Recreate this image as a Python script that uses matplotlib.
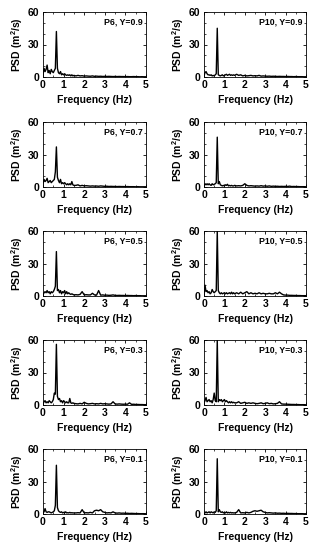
import numpy as np
import matplotlib
matplotlib.use('Agg')
import matplotlib.pyplot as plt
from matplotlib.ticker import MultipleLocator

plt.rcParams['font.family'] = ['Liberation Sans', 'DejaVu Sans']
plt.rcParams['font.weight'] = 'bold'
plt.rcParams['mathtext.fontset'] = 'custom'
plt.rcParams['mathtext.rm'] = 'Liberation Sans:bold'
plt.rcParams['mathtext.bf'] = 'Liberation Sans:bold'
plt.rcParams['mathtext.default'] = 'bf'

# frequency grid (Hz): fine near the peak, coarser above 1.5 Hz
freq = np.concatenate([np.arange(0, 1.501, 0.05), np.arange(1.6, 5.001, 0.1)])

# PSD values (m^2/s)
p6_09 = [2, 8, 5, 7, 11, 4, 6, 3, 7, 5, 4, 6, 8, 42, 8, 4, 3, 5, 2, 3, 2, 3, 2, 1.5, 2, 1.5, 2, 1, 2, 1, 1.5,
         1, 1.5, 1, 1.2, 0.8, 1, 0.8, 0.7, 1, 0.6, 0.8, 0.6, 0.7, 0.5, 0.6, 0.5, 0.6, 0.5, 0.4, 0.5, 0.4, 0.5,
         0.4, 0.4, 0.3, 0.4, 0.3, 0.3, 0.4, 0.3, 0.3, 0.2, 0.3, 0.2, 0.2]
p10_09 = [1, 4, 5, 3, 2, 2, 1.5, 2, 1, 1.5, 1, 2, 3, 45, 2, 1.5, 1, 1.5, 2, 1, 1.5, 2, 2.5, 1.5, 2, 2.5, 1.5, 2, 1.5, 2, 1.5,
          2.5, 1.5, 2, 1, 1.5, 1, 1.2, 1.5, 1, 1.2, 1, 1.5, 0.8, 1, 0.8, 0.7, 0.8, 0.6, 0.7, 0.6, 0.5, 0.6,
          0.5, 0.5, 0.4, 0.5, 0.4, 0.4, 0.3, 0.4, 0.3, 0.3, 0.3, 0.2, 0.2]
p6_07 = [3, 7, 5, 6, 8, 4, 5, 6, 4, 5, 6, 7, 14, 37, 9, 6, 4, 7, 3, 4, 3, 4, 3, 2, 3, 2, 3, 2, 5, 2, 1.5,
         1.5, 2, 1, 1.5, 1, 1.2, 1, 0.8, 1, 0.8, 0.9, 0.7, 1, 0.8, 0.6, 0.7, 0.5, 0.6, 0.5, 0.5, 0.4, 0.5,
         0.4, 0.4, 0.3, 0.4, 0.3, 0.3, 0.3, 0.2, 0.3, 0.2, 0.2, 0.2, 0.2]
p10_07 = [1, 3, 2, 3, 2, 3, 2, 1.5, 3, 2, 2.5, 3, 4, 46, 3, 5, 2, 1.5, 1, 1.5, 1, 2, 1.5, 2.5, 1, 1.5, 1, 1.5, 1, 1, 1.5,
          1, 1.2, 1, 1.5, 3, 1.5, 1, 1.2, 1, 0.8, 1, 0.8, 1.2, 0.8, 1, 0.7, 1, 0.6, 0.8, 0.6, 0.7, 0.5,
          0.6, 0.5, 0.6, 0.5, 0.8, 0.4, 0.5, 0.4, 0.4, 0.3, 0.3, 0.3, 0.2]
p6_05 = [1, 3, 4, 3, 5, 3, 4, 2, 4, 3, 4, 6, 9, 41, 5, 6, 3, 5, 2, 4, 3, 5, 2, 4, 2, 3, 2, 1.5, 2, 1.5, 1,
         1.2, 1, 1.5, 4, 1, 1.2, 1, 1, 2.5, 1, 0.8, 5, 0.8, 1, 0.7, 0.8, 0.6, 0.7, 1, 0.6, 0.5, 0.6,
         0.5, 0.5, 0.4, 0.5, 0.4, 0.4, 0.3, 0.4, 0.3, 0.3, 0.2, 0.2, 0.2]
p10_05 = [2, 10, 4, 5, 3, 4, 2, 3, 6, 4, 3, 4, 5, 60, 5, 3, 2, 3, 2, 2.5, 3, 2, 3, 2, 2.5, 3, 2, 3.5, 2, 3, 2,
          3, 2, 3.5, 2, 3, 4, 2, 3, 2, 2.5, 2, 3, 2, 2.5, 2, 2, 2.5, 2, 2, 3, 2, 3.5,
          2, 1, 0.8, 0.8, 0.6, 0.6, 0.5, 0.5, 0.4, 0.4, 0.3, 0.3, 0.3]
p6_03 = [1, 3, 4, 2, 3, 2, 4, 3, 2, 3, 5, 11, 10, 56, 8, 5, 6, 3, 4, 2, 4, 3, 2, 3, 2, 2, 6, 2, 1.5, 2, 1.5,
         1.2, 1, 1.5, 1, 2.5, 1.5, 1, 1.2, 1.5, 1, 1.2, 1, 1.5, 1, 1.2, 1, 0.8, 1, 3, 1, 0.8, 1,
         0.8, 0.7, 0.8, 0.7, 2, 0.6, 0.7, 0.5, 0.5, 0.4, 0.4, 0.3, 0.3]
p10_03 = [2, 4, 7, 3, 4, 5, 3, 4, 2, 5, 11, 4, 3, 60, 3, 5, 4, 5, 3, 4, 5, 3, 4, 3, 2, 3, 2, 3, 2, 2.5, 2,
          2, 3, 1.5, 2, 2.5, 1.5, 2, 1.5, 2, 1.5, 1.2, 1.5, 2, 1.2, 1.5, 2, 1.2, 1.5, 1, 1.2, 1.5, 3,
          1, 0.8, 0.8, 0.7, 0.6, 0.5, 0.5, 0.4, 0.4, 0.3, 0.3, 0.3, 0.2]
p6_01 = [1, 2, 5, 2, 1.5, 2, 2, 1.5, 1, 1.5, 2, 3, 8, 45, 6, 3, 2, 1.5, 2, 1, 1.5, 1, 2, 1, 1.2, 1, 1.5, 1, 1.2, 1, 1,
         1, 1.2, 1, 4, 1, 1.2, 1, 1.5, 1, 3, 3.5, 3, 4, 2, 1.5, 1, 1.2, 1, 2, 1, 0.8, 1,
         0.7, 0.8, 0.6, 0.7, 0.5, 0.6, 0.5, 0.4, 0.4, 0.3, 0.3, 0.3, 0.2]
p10_01 = [0.5, 1, 2, 1, 1.5, 2, 1, 2, 1.5, 1, 2, 1.5, 3, 51, 2, 4, 2, 1.5, 2, 1, 1.5, 1, 2, 1, 1.5, 1, 1.5, 1, 1.2, 1, 1,
          1.5, 4, 1, 1.2, 1, 1.5, 1, 1.5, 2.5, 3, 2.5, 3, 3.5, 2, 1.5, 1, 1.2, 1, 0.8, 1, 0.7, 0.8,
          0.6, 0.7, 0.5, 0.6, 0.5, 0.5, 0.4, 0.4, 0.3, 0.3, 0.3, 0.2, 0.2]

left_col = [p6_09, p6_07, p6_05, p6_03, p6_01]
right_col = [p10_09, p10_07, p10_05, p10_03, p10_01]
gammas = ['0.9', '0.7', '0.5', '0.3', '0.1']

fig = plt.figure(figsize=(3.19, 5.50), dpi=100)
W, H = 319, 550
row_tops = [12, 122, 231, 340, 449]
ax_h = 65
cols = [(43, 103, 'P6', left_col), (204, 102, 'P10', right_col)]

for x0, w, name, series in cols:
    for i, top in enumerate(row_tops):
        ax = fig.add_axes([x0 / W, 1 - (top + ax_h) / H, w / W, ax_h / H])
        ax.plot(freq, series[i], color='black', lw=1.0)
        ax.set_xlim(0, 5)
        ax.set_ylim(0, 60)
        ax.set_xticks([0, 1, 2, 3, 4, 5])
        ax.set_yticks([0, 30, 60])
        ax.xaxis.set_minor_locator(MultipleLocator(0.5))
        ax.yaxis.set_minor_locator(MultipleLocator(10))
        ax.tick_params(which='both', direction='in', top=True, right=True, labelsize=7.5, pad=2.5)
        ax.tick_params(which='major', length=2.5, width=0.6)
        ax.tick_params(which='minor', length=1.5, width=0.5)
        for s in ax.spines.values():
            s.set_linewidth(0.6)
        ax.set_xlabel('Frequency (Hz)', fontsize=7.5, fontweight='bold', labelpad=3)
        ax.set_ylabel(r'PSD (m$^2$/s)', fontsize=7.5, fontweight='bold', labelpad=2)
        ax.text(0.97, 0.92, name + ', Y=' + gammas[i], transform=ax.transAxes,
                ha='right', va='top', fontsize=6.3, fontweight='bold')

fig.savefig('out.png', dpi=100)
